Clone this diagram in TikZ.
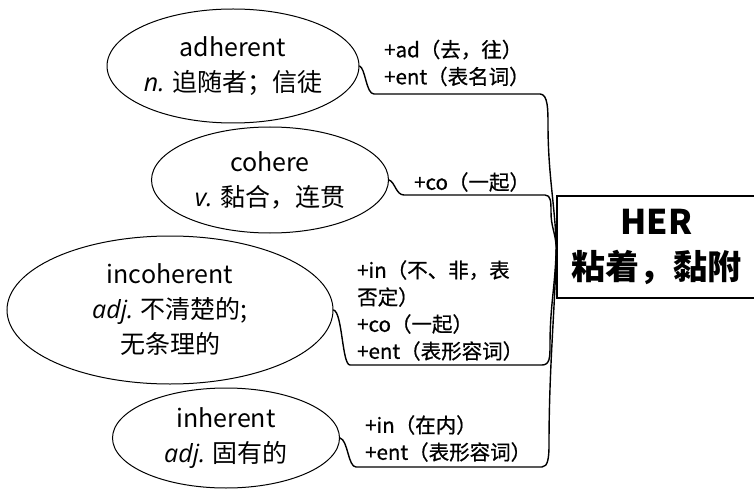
\documentclass[tikz,border=0pt]{standalone}
\usepackage{fontspec}
\setmainfont{Noto Sans CJK SC}
\newfontfamily\itf{Open Sans}
\newfontfamily\labf{Noto Sans CJK SC}[FakeBold=0.7]
\usetikzlibrary{shapes.geometric}
\tikzset{
  ell/.style={draw, ellipse, line width=1pt, inner sep=0pt, align=center,
    font=\fontsize{25}{35}\selectfont},
  lab/.style={anchor=west, inner sep=0pt, align=left,
    font=\labf\fontsize{20.5}{27}\selectfont},
  conn/.style={line width=1.4pt, line cap=round, line join=round},
  rootbox/.style={draw, line width=1.5pt, minimum width=199pt, minimum height=102pt,
    inner sep=0pt, align=center, font=\bfseries\fontsize{34}{45}\selectfont}
}
\begin{document}
\begin{tikzpicture}[x=1pt,y=-1pt]
\useasboundingbox[fill=white] (0,0) rectangle (754,489);

\node[rootbox] (root) at (656.5,247) {HER\\粘着，黏附};

\node[ell, minimum width=250pt, minimum height=114pt] (a) at (233,66)
  {adherent\\{\itf\itshape n.} 追随者；信徒};
\node[ell, minimum width=237pt, minimum height=106pt] (c) at (270,180)
  {cohere\\{\itf\itshape v.} 黏合，连贯};
\node[ell, minimum width=326pt, minimum height=148pt] (i) at (170,310)
  {incoherent\\{\itf\itshape adj.} 不清楚的;\\无条理的};
\node[ell, minimum width=227pt, minimum height=100pt] (h) at (226,438)
  {inherent\\{\itf\itshape adj.} 固有的};

\node[lab] (la) at (384,63) {+ad（去，往）\\+ent（表名词）};
\node[lab] (lc) at (414,182) {+co（一起）};
\node[lab] (li) at (357,310.5) {+in（不、非，表\\否定）\\+co（一起）\\+ent（表形容词）};
\node[lab] (lh) at (365,438.5) {+in（在内）\\+ent（表形容词）};

\coordinate (a1) at (374,94);
\coordinate (a2) at (540,94);
\coordinate (c1) at (404,195);
\coordinate (c2) at (545,195);
\coordinate (i1) at (350,365);
\coordinate (i2) at (542,365);
\coordinate (h1) at (356,467);
\coordinate (h2) at (542,467);

\draw[conn] (a.east) .. controls +(6,2) and +(-8,0) .. (a1) -- (a2)
  .. controls +(8,0) and +(0,-15) .. (548,125)
  .. controls +(0,50) and +(-1,-40) .. (root.west);
\draw[conn] (c.east) .. controls +(6,2) and +(-8,0) .. (c1) -- (c2)
  .. controls +(6,0) and +(0,-10) .. (551,212)
  .. controls +(0,15) and +(-1,-15) .. (root.west);
\draw[conn] (i.east) .. controls +(9,2) and +(-8,0) .. (i1) -- (i2)
  .. controls +(8,0) and +(0,12) .. (550,345)
  .. controls +(0,-40) and +(-1,40) .. (root.west);
\draw[conn] (h.east) .. controls +(8,2) and +(-8,0) .. (h1) -- (h2)
  .. controls +(6,0) and +(0,12) .. (549,445)
  .. controls +(0,-80) and +(-1,60) .. (root.west);
\end{tikzpicture}
\end{document}
